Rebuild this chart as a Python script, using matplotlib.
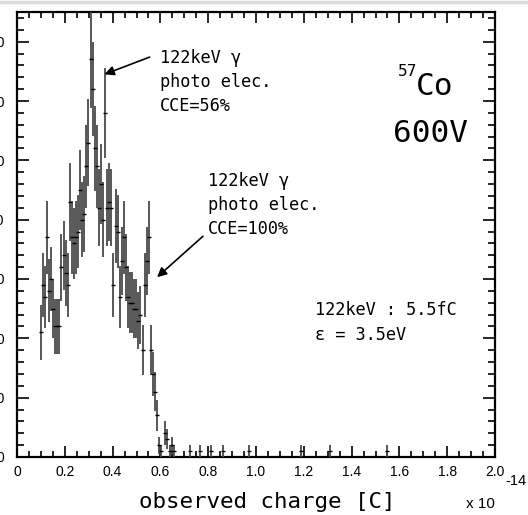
import numpy as np
import matplotlib
matplotlib.use("Agg")
import matplotlib.pyplot as plt
from matplotlib import font_manager
from matplotlib.lines import Line2D

# ---------------- data ----------------
bin_start = 0.099      # centre of first bin [x1e-14 C]
bin_width = 0.0087
counts = [21, 29, 27, 37, 28, 30, 25, 22, 22, 22,
          32, 34, 31, 29, 43, 37, 36, 37, 38, 45,
          40, 41, 49, 53, 67, 62, 52, 49, 42, 46,
          40, 58, 42, 43, 42, 29, 39, 38, 27, 33,
          37, 32, 27, 26, 26, 25, 25, 23, 24, 18,
          29, 33, 37, 18, 14, 11, 7, 2, 1, 0,
          4, 3, 1, 2, 1]
sparse_x = [0.724, 0.766, 0.81, 0.86, 0.97, 1.19, 1.31, 1.55]
sparse_n = [1, 1, 1, 1, 1, 1, 1, 1]

x_ticks = [0, 0.2, 0.4, 0.6, 0.8, 1.0, 1.2, 1.4, 1.6, 1.8, 2.0]
x_ticklabels = ["0", "0.2", "0.4", "0.6", "0.8", "1.0", "1.2", "1.4", "1.6", "1.8", "2.0"]
y_ticks = [0, 10, 20, 30, 40, 50, 60, 70]
y_ticklabels = ["0", "10", "20", "30", "40", "50", "60", "70"]

# ---------------- fonts ----------------
names = {f.name for f in font_manager.fontManager.ttflist}
if "Noto Sans Mono CJK JP" in names:
    MONO = ["Noto Sans Mono CJK JP", "DejaVu Sans Mono"]
    ms = 1.0
else:
    MONO = ["DejaVu Sans Mono"]
    ms = 0.83
SANS = ["Liberation Sans", "DejaVu Sans"]

W, H = 528, 515
fig = plt.figure(figsize=(W / 100, H / 100), dpi=100)
L, R, T, B = 17, 495, 12, 457
ax = fig.add_axes([L / W, 1 - B / H, (R - L) / W, (B - T) / H])

def fx(x):
    return x / W

def fy(y):
    return 1 - y / H

# histogram with poisson errors
centres = bin_start + bin_width * np.arange(len(counts))
n = np.array(counts, dtype=float)
mask = n > 0
ax.errorbar(centres[mask], n[mask], yerr=np.sqrt(n[mask]), fmt="none",
            ecolor="#4a4a4a", elinewidth=1.3, capsize=0, zorder=3)
ax.plot(centres[mask], n[mask], ls="none", marker="_", ms=3.5, mew=1.0,
        color="black", zorder=4)
sx = np.array(sparse_x)
sn = np.array(sparse_n, dtype=float)
ax.errorbar(sx, sn, yerr=np.sqrt(sn), fmt="none", ecolor="#4a4a4a",
            elinewidth=1.3, capsize=0, zorder=3)
ax.plot(sx, sn, ls="none", marker="_", ms=3.5, mew=1.0, color="black", zorder=4)

ax.set_xlim(0, 2.0)
ax.set_ylim(0, 75)
ax.set_xticks(x_ticks)
ax.set_xticklabels(x_ticklabels, fontfamily=SANS, fontsize=10)
ax.set_xticks(np.arange(0, 2.0001, 0.05), minor=True)
ax.set_yticks(y_ticks)
ax.set_yticklabels(y_ticklabels, fontfamily=SANS, fontsize=10)
ax.set_yticks(np.arange(0, 75.001, 2), minor=True)

ax.tick_params(axis="both", which="both", direction="in", top=True, right=True,
               color="black", width=1.2)
ax.tick_params(axis="x", which="major", length=8, pad=6)
ax.tick_params(axis="x", which="minor", length=4)
ax.tick_params(axis="y", which="major", length=8.6, pad=9)
ax.tick_params(axis="y", which="minor", length=5)
for s in ax.spines.values():
    s.set_linewidth(1.6)

# x10^-14
fig.text(fx(466), fy(508), "x 10", fontfamily=SANS, fontsize=11, va="baseline", ha="left")
fig.text(fx(505), fy(485), "-14", fontfamily=SANS, fontsize=10.5, va="baseline", ha="left")

# axis label
fig.text(fx(267), fy(508), "observed charge [C]", fontfamily=MONO,
         fontsize=19.5 * ms, ha="center", va="baseline")

# annotations
lh = 24
ann1 = ["122keV γ", "photo elec.", "CCE=56%"]
for i, s in enumerate(ann1):
    fig.text(fx(160), fy(63 + i * lh), s, fontfamily=MONO, fontsize=14.7 * ms,
             va="baseline", ha="left")
ann2 = ["122keV γ", "photo elec.", "CCE=100%"]
for i, s in enumerate(ann2):
    fig.text(fx(208), fy(186 + i * lh), s, fontfamily=MONO, fontsize=14.7 * ms,
             va="baseline", ha="left")
fig.text(fx(315), fy(315), "122keV : 5.5fC", fontfamily=MONO, fontsize=14.7 * ms,
         va="baseline", ha="left")
fig.text(fx(315), fy(340), "ε = 3.5eV", fontfamily=MONO, fontsize=14.7 * ms,
         va="baseline", ha="left")

fig.text(fx(398), fy(76), "57", fontfamily=MONO, fontsize=14 * ms, va="baseline", ha="left")
fig.text(fx(416), fy(95), "Co", fontfamily=MONO, fontsize=27 * ms, va="baseline", ha="left")
fig.text(fx(393), fy(142), "600V", fontfamily=MONO, fontsize=27 * ms, va="baseline", ha="left")

# arrows (data coordinates)
arrow_kw = dict(arrowstyle="-|>", color="black", lw=1.2, mutation_scale=14,
                shrinkA=0, shrinkB=0)
ax.annotate("", xy=(0.366, 64.5), xytext=(0.555, 67.4),
            arrowprops=arrow_kw, zorder=5)
ax.annotate("", xy=(0.586, 30.3), xytext=(0.778, 37.2),
            arrowprops=arrow_kw, zorder=5)

# light gray frame line at the top of the screenshot
fig.add_artist(Line2D([0, 1], [fy(1.5), fy(1.5)], transform=fig.transFigure,
                      color="#dcdcdc", lw=2.5))

fig.savefig("out.png", dpi=100)
